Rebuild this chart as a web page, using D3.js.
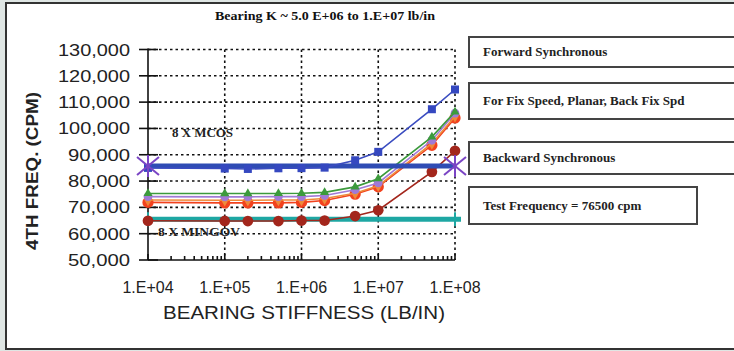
<!DOCTYPE html>
<html><head><meta charset="utf-8">
<script src="https://cdn.jsdelivr.net/npm/d3@7"></script>
<style>html,body{margin:0;padding:0;background:#dfe6e4;}svg{display:block;}</style>
</head><body>
<svg id="c" width="734" height="351"></svg>
<script>
const stiffness = [1e4, 1e5, 2e5, 5e5, 1e6, 2e6, 5e6, 1e7, 5e7, 1e8];
const forwardSync = [85000, 84750, 84600, 84850, 84900, 85100, 87900, 91100, 107300, 114800];
const greenSeries = [75300, 75250, 75250, 75300, 75350, 75700, 77800, 80900, 96800, 106300];
const purpleSeries = [74100, 74000, 74000, 74100, 74100, 74500, 76700, 79300, 95500, 105800];
const orangeSeries = [72800, 72700, 72700, 72800, 72800, 73400, 75400, 78200, 94300, 104600];
const redSeries = [71900, 71700, 71700, 71700, 71900, 72600, 75000, 77800, 93600, 104000];
const darkRedSeries = [64900, 64850, 64800, 64800, 65000, 65000, 66700, 68900, 83500, 91500];
const backwardLine = 85700;
const testLine = 65500;
const yTicks = [50000, 60000, 70000, 80000, 90000, 100000, 110000, 120000, 130000];
const xTicks = [1e4, 1e5, 1e6, 1e7, 1e8];
const xTickLabels = ["1.E+04", "1.E+05", "1.E+06", "1.E+07", "1.E+08"];
const legendLabels = ["Forward Synchronous", "For Fix Speed, Planar, Back Fix Spd", "Backward Synchronous", "Test Frequency = 76500 cpm"];
const title = "Bearing K ~ 5.0 E+06 to 1.E+07 lb/in";

const svg = d3.select("#c");
// frame
svg.append("rect").attr("x", 6).attr("y", 3).attr("width", 740).attr("height", 346)
  .attr("fill", "#fff").attr("stroke", "#333").attr("stroke-width", 2);

const x = d3.scaleLog().domain([1e4, 1e8]).range([148, 455]);
const y = d3.scaleLinear().domain([50000, 130000]).range([260, 49.5]);

// grid
const grid = svg.append("g").attr("stroke", "#111").attr("stroke-width", 1.6).attr("stroke-dasharray", "2.5,3");
grid.selectAll("line.h").data(yTicks.filter(d => d > 50000)).join("line")
  .attr("x1", 148).attr("x2", 455).attr("y1", d => y(d)).attr("y2", d => y(d));
grid.selectAll("line.v").data(xTicks.slice(1)).join("line")
  .attr("x1", d => x(d)).attr("x2", d => x(d)).attr("y1", y(130000)).attr("y2", y(50000));

// axes
const ax = svg.append("g").attr("stroke", "#111").attr("stroke-width", 1.6);
ax.append("line").attr("x1", 148).attr("x2", 148).attr("y1", y(130000) - 1).attr("y2", y(50000));
ax.append("line").attr("x1", 148).attr("x2", 455).attr("y1", y(50000)).attr("y2", y(50000));
ax.selectAll("line.yt").data(yTicks).join("line")
  .attr("x1", 139).attr("x2", 158).attr("y1", d => y(d)).attr("y2", d => y(d));
const minor = [];
for (let e = 4; e < 8; e++) for (let m = 2; m <= 9; m++) minor.push(m * Math.pow(10, e));
ax.selectAll("line.mt").data(minor).join("line")
  .attr("x1", d => x(d)).attr("x2", d => x(d)).attr("y1", y(50000)).attr("y2", y(50000) - 4);
ax.selectAll("line.Mt").data(xTicks).join("line")
  .attr("x1", d => x(d)).attr("x2", d => x(d)).attr("y1", y(50000)).attr("y2", y(50000) - 6);

// tick labels
svg.append("g").selectAll("text").data(yTicks).join("text")
  .attr("x", 130).attr("y", d => y(d) + 6).attr("text-anchor", "end")
  .attr("font-family", "Liberation Sans, Arial").attr("font-size", 17).attr("fill", "#222")
  .attr("textLength", d => d >= 100000 ? 72 : 62).attr("lengthAdjust", "spacingAndGlyphs")
  .text(d => d3.format(",")(d));
svg.append("g").selectAll("text").data(xTicks).join("text")
  .attr("x", d => x(d)).attr("y", 293).attr("text-anchor", "middle")
  .attr("font-family", "Liberation Sans, Arial").attr("font-size", 16).attr("fill", "#222")
  .text((d, i) => xTickLabels[i]);

// axis titles
svg.append("text").attr("x", 304).attr("y", 319).attr("text-anchor", "middle")
  .attr("font-family", "Liberation Sans, Arial").attr("font-size", 18).attr("fill", "#222")
  .attr("textLength", 282).attr("lengthAdjust", "spacingAndGlyphs")
  .text("BEARING STIFFNESS (LB/IN)");
svg.append("text").attr("transform", "translate(38,171) rotate(-90)").attr("text-anchor", "middle")
  .attr("font-family", "Liberation Sans, Arial").attr("font-weight", "bold").attr("font-size", 16).attr("fill", "#222")
  .attr("textLength", 158).attr("lengthAdjust", "spacingAndGlyphs")
  .text("4TH FREQ. (CPM)");
svg.append("text").attr("x", 325).attr("y", 20).attr("text-anchor", "middle")
  .attr("font-family", "Liberation Serif, Times New Roman").attr("font-weight", "bold").attr("font-size", 13).attr("fill", "#111")
  .attr("textLength", 220).attr("lengthAdjust", "spacingAndGlyphs")
  .text(title);

// annotations
svg.append("text").attr("x", 172).attr("y", 137)
  .attr("font-family", "Liberation Serif").attr("font-weight", "bold").attr("font-size", 12.5).attr("fill", "#222")
  .attr("textLength", 61).attr("lengthAdjust", "spacingAndGlyphs")
  .text("8 X MCOS");
svg.append("text").attr("x", 158).attr("y", 236)
  .attr("font-family", "Liberation Serif").attr("font-weight", "bold").attr("font-size", 12.5).attr("fill", "#222")
  .attr("textLength", 82).attr("lengthAdjust", "spacingAndGlyphs")
  .text("8 X MINGOV");

const line = d3.line().x((d, i) => x(stiffness[i])).y(d => y(d));

// reference lines
svg.append("path").datum([testLine, testLine]).attr("fill", "none").attr("stroke", "#1ea7a3").attr("stroke-width", 5)
  .attr("d", d3.line().x((d, i) => i ? x(1e8) + 6 : x(1e4)).y(d => y(d)));
svg.append("g").attr("stroke", "#1ea7a3").attr("stroke-width", 2).selectAll("line").data([1e4, 1e8]).join("line")
  .attr("x1", d => x(d)).attr("x2", d => x(d)).attr("y1", y(testLine) - 7).attr("y2", y(testLine) + 7);

const series = [
  {v: darkRedSeries, c: "#a3261c", sym: d3.symbolCircle, s: 90, w: 1.6},
  {v: redSeries, c: "#f2421e", sym: d3.symbolCircle, s: 100, w: 1.6},
  {v: orangeSeries, c: "#ee8a3a", sym: d3.symbolDiamond, s: 45, w: 1.6},
  {v: purpleSeries, c: "#a07ad6", sym: d3.symbolCircle, s: 60, w: 1.6},
  {v: greenSeries, c: "#3c9a3c", sym: d3.symbolTriangle, s: 35, w: 1.6},
];
series.forEach(s => {
  svg.append("path").datum(s.v).attr("fill", "none").attr("stroke", s.c).attr("stroke-width", s.w).attr("d", line);
  svg.append("g").selectAll("path").data(s.v).join("path")
    .attr("transform", (d, i) => `translate(${x(stiffness[i])},${y(d)})`)
    .attr("d", d3.symbol().type(s.sym).size(s.s)).attr("fill", s.c);
});

// backward synchronous thick line
svg.append("path").datum([backwardLine, backwardLine]).attr("fill", "none").attr("stroke", "#2f4cb4").attr("stroke-width", 5)
  .attr("d", d3.line().x((d, i) => i ? x(1e8) : x(1e4)).y(d => y(d)));

// forward synchronous
svg.append("path").datum(forwardSync).attr("fill", "none").attr("stroke", "#3a4cc0").attr("stroke-width", 1.6).attr("d", line);
svg.append("g").selectAll("rect").data(forwardSync).join("rect")
  .attr("x", (d, i) => x(stiffness[i]) - 4).attr("y", d => y(d) - 4).attr("width", 8).attr("height", 8).attr("fill", "#3548c0");

// asterisks
const st = svg.append("g").attr("stroke", "#7a44c4").attr("stroke-width", 2);
[1e4, 1e8].forEach(k => {
  const cx = x(k), cy = y(backwardLine);
  [[-11, -9, 11, 9], [-11, 9, 11, -9], [0, -11, 0, 11]].forEach(a =>
    st.append("line").attr("x1", cx + a[0]).attr("y1", cy + a[1]).attr("x2", cx + a[2]).attr("y2", cy + a[3]));
});

// legend boxes
const boxes = [
  {y0: 37, y1: 67, x1: 760}, {y0: 83, y1: 119, x1: 760}, {y0: 142, y1: 174, x1: 760}, {y0: 187, y1: 224, x1: 697}
];
const lg = svg.append("g");
boxes.forEach((b, i) => {
  lg.append("rect").attr("x", 469).attr("y", b.y0).attr("width", b.x1 - 469).attr("height", b.y1 - b.y0)
    .attr("fill", "#fff").attr("stroke", "#444").attr("stroke-width", 2);
  lg.append("text").attr("x", 483).attr("y", (b.y0 + b.y1) / 2 + 4)
    .attr("font-family", "Liberation Serif").attr("font-weight", "bold").attr("font-size", 13).attr("fill", "#222")
    .text(legendLabels[i]);
});
</script>
</body></html>
